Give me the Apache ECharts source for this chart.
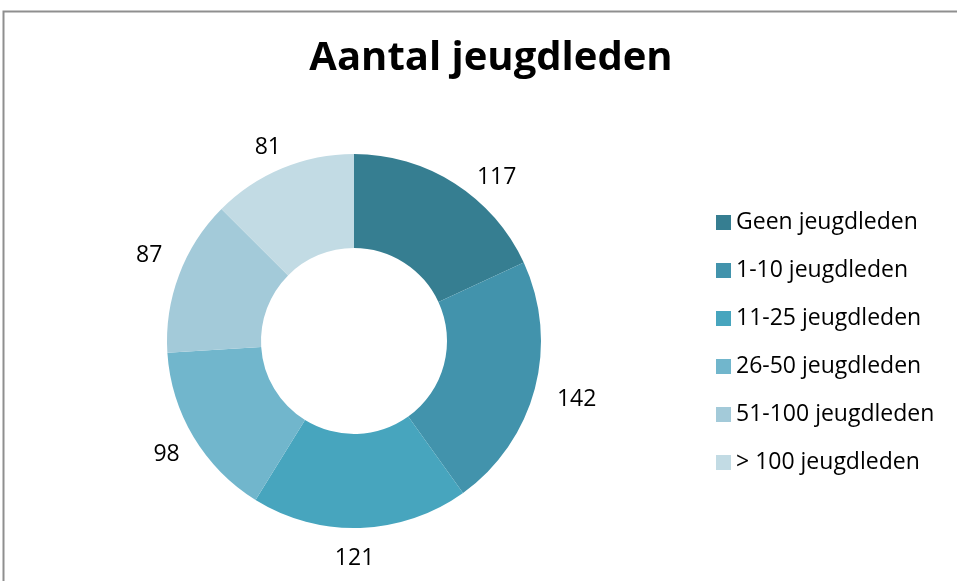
<!DOCTYPE html>
<html>
<head>
<meta charset="utf-8">
<script src="https://cdn.jsdelivr.net/npm/echarts@6/dist/echarts.min.js"></script>
<style>
	html, body { margin: 0; padding: 0; background: #fff; }
	#chart { width: 957px; height: 581px; }
</style>
</head>
<body>
<div id="chart"></div>
<script>
// Data
const categories = ['Geen jeugdleden', '1-10 jeugdleden', '11-25 jeugdleden', '26-50 jeugdleden', '51-100 jeugdleden', '> 100 jeugdleden']
const values = [117, 142, 121, 98, 87, 81]
const colors = ['#367E91', '#4293AC', '#47A5BE', '#71B6CC', '#A3CAD9', '#C2DBE4']
// small nudges so the value labels sit where Excel put them
const labelNudge = [[23, 23], [8, 2], [-7, -4], [3, -1], [3, -7], [-1, 11]]

const chart = echarts.init(document.getElementById('chart'))

const pieData = categories.map((name, i) => ({ name: name, value: values[i] }))

const option = {
	backgroundColor: '#fff',
	animation: false,
	color: colors,
	title: {
		text: 'Aantal jeugdleden',
		left: 486,
		top: 34,
		textAlign: 'center',
		textStyle: {
			fontFamily: 'Open Sans',
			fontWeight: 'bold',
			fontSize: 40,
			color: '#000'
		}
	},
	graphic: [{
		type: 'rect',
		shape: { x: 3.5, y: 11.5, width: 1000, height: 1000 },
		style: { fill: 'none', stroke: '#8f8f8f', lineWidth: 2 },
		silent: true
	}],
	legend: {
		orient: 'vertical',
		left: 711,
		top: 206,
		itemWidth: 15,
		itemHeight: 15,
		itemGap: 25,
		icon: 'rect',
		data: categories,
		textStyle: {
			fontFamily: 'Open Sans',
			fontSize: 23,
			lineHeight: 23,
			color: '#000',
			padding: [0, 0, 0, 0]
		}
	},
	series: [{
		type: 'pie',
		center: [354, 341],
		radius: [93, 187],
		startAngle: 90,
		clockwise: true,
		data: pieData,
		label: { show: false },
		labelLine: { show: false },
		itemStyle: { borderWidth: 0 }
	}, {
		// transparent ring that only carries the value labels
		type: 'pie',
		center: [354, 341],
		radius: [187, 251],
		startAngle: 90,
		clockwise: true,
		silent: true,
		data: pieData.map((d, i) => ({ name: d.name, value: d.value, label: { offset: labelNudge[i] } })),
		itemStyle: { color: 'rgba(0,0,0,0)', borderWidth: 0 },
		label: {
			show: true,
			position: 'inside',
			formatter: '{c}',
			fontFamily: 'Open Sans',
			fontSize: 23,
			color: '#000'
		},
		labelLine: { show: false }
	}]
}

chart.setOption(option)
</script>
</body>
</html>
